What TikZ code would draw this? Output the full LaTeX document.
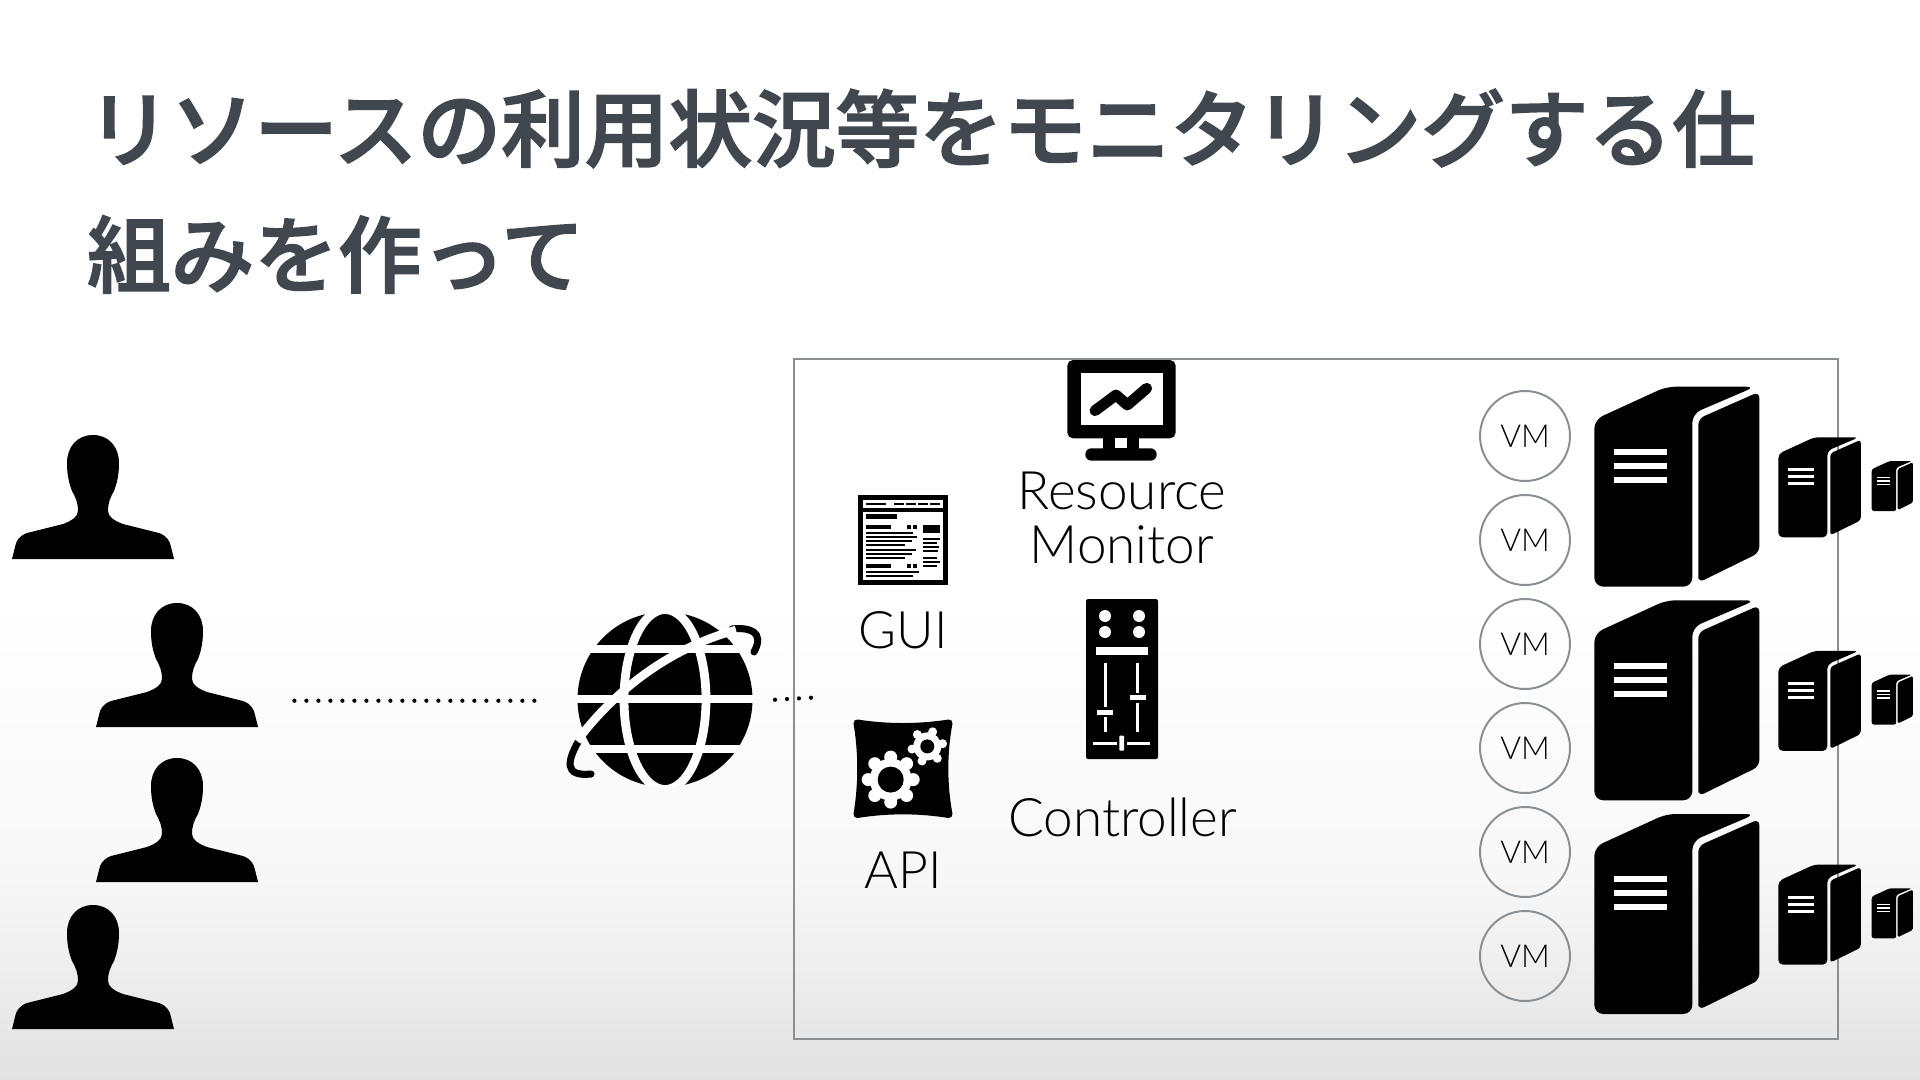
\documentclass[tikz,border=0pt]{standalone}
\usepackage{fontspec}
\setmainfont{Lato Light}
\newfontfamily\cjk[FakeBold=2]{Noto Sans CJK JP Medium}
\usetikzlibrary{positioning}
\definecolor{abujudul}{RGB}{64,71,78}
\definecolor{abugaris}{RGB}{138,143,148}
\definecolor{abutengah}{RGB}{247,247,247}
\definecolor{abubawah}{RGB}{226,226,226}
\tikzset{
    labeltext/.style={inner sep=0pt, anchor=base, font=\fontsize{73.5}{78}\selectfont},
    widelabel/.style={labeltext, font=\fontsize{75.5}{78}\selectfont},
    vmcircle/.style={circle, draw=abugaris, line width=2.8pt, minimum size=128pt, inner sep=0pt, font=\fontsize{45}{45}\selectfont},
    dotline/.style={line width=6pt, line cap=round, dash pattern=on 0pt off 17.07pt},
}
\newcommand{\serverikon}[3]{%
    \begin{scope}[shift={(#1,#2)}, scale=#3]
        \fill[rounded corners=#3*13pt] (0,200) -- (0,33) -- (72,0) -- (161,0) -- (98,27) -- (98,200) -- cycle;
        \fill[rounded corners=#3*9pt] (104,196) -- (104,32) -- (165,5) -- (165,166) -- (104,196) -- cycle;
        \foreach \y in {62.3,76.3,90.3}
            \fill[white] (20,\y) rectangle (72.3,\y+6);
    \end{scope}
}

\begin{document}
\begin{tikzpicture}[x=0.05cm, y=-0.05cm]
    \useasboundingbox (0,0) rectangle (1920,1080);
    \fill[white] (0,0) rectangle (1920,600);
    \shade[top color=white, bottom color=abutengah] (0,600) rectangle (1920,880);
    \shade[top color=abutengah, bottom color=abubawah] (0,880) rectangle (1920,1080);

    \node[anchor=north west, inner sep=0pt, align=left, text=abujudul, font=\cjk\fontsize{119}{179}\selectfont] (judul) at (87,89)
        {リソースの利用状況等をモニタリングする仕\\組みを作って};

    \draw[abugaris, line width=2.8pt] (794,359) rectangle (1838,1039);

    % users
    \foreach \x/\y in {93/435, 177/603, 177/758, 93/905}
    {
        \fill[shift={(\x,\y)}] (0,0) .. controls (16,0) and (26,12) .. (26,28)
            .. controls (26,40) and (24,48) .. (21,56) .. controls (17,63) and (15,68) .. (15,76)
            .. controls (15,82) and (22,86) .. (30,89) -- (66,98)
            .. controls (74,101) and (77,106) .. (78,112) -- (81,124) -- (-81,124) -- (-78,112)
            .. controls (-77,106) and (-74,101) .. (-66,98) -- (-30,89)
            .. controls (-22,86) and (-15,82) .. (-15,76) .. controls (-15,68) and (-17,63) .. (-21,56)
            .. controls (-24,48) and (-26,40) .. (-26,28) .. controls (-26,12) and (-16,0) .. (0,0) -- cycle;
    }

    % dots
    \coordinate (usersend) at (294.4,700.7);
    \coordinate (globeleft) at (534.4,700.7);
    \coordinate (globeright) at (775,699.7);
    \coordinate (boxin) at (811.5,697.7);
    \draw[dotline] (usersend) -- (globeleft);
    \draw[dotline] (globeright) -- (boxin);

    % globe
    \fill (665,699.5) circle[radius=87.5];
    \draw[line width=10pt, line cap=round] (732,629) .. controls (750,627) and (765,632) .. (754,652);
    \draw[line width=10pt, line cap=round] (578,742) .. controls (568,760) and (563,777) .. (591,774);
    \begin{scope}
        \clip (665,699.5) circle[radius=88];
        \draw[white, line width=12.5pt] (570,649) -- (760,649);
        \draw[white, line width=12.5pt] (570,699) -- (760,699);
        \draw[white, line width=12.5pt] (570,749) -- (760,749);
        \draw[white, line width=12.5pt] (665,699.5) ellipse[x radius=41, y radius=90];
    \end{scope}
    \draw[white, line width=12pt] (577,741) .. controls (615,690) and (670,648) .. (736,630);

    % gui
    \begin{scope}[shift={(840,480)}, scale=0.3333]
        \fill (54,45) rectangle (324,315);
        \fill[white] (69,60) rectangle (309,84);
        \fill[white] (69,96) rectangle (309,300);
        \foreach \xa/\xb/\ya/\yb in {78/138/68/76, 162/192/68/76, 198/228/68/76, 234/264/68/76, 270/300/68/76,
            78/171/102/118, 78/153/135/148, 201/213/135/148, 219/231/135/148, 249/300/135/160,
            78/219/157/162, 78/231/169/174, 78/216/181/186, 78/195/193/198, 78/228/208/213, 78/216/220/225, 78/195/232/237,
            249/300/175/180, 249/291/187/192, 249/297/199/204, 249/294/211/216, 249/291/232/237, 249/300/244/249, 249/291/256/261,
            78/153/252/264, 201/213/252/264, 219/231/252/264, 78/237/273/279, 78/219/285/291}
            \fill (\xa,\ya) rectangle (\xb,\yb);
    \end{scope}
    \node[labeltext] (gui) at (903,648) {GUI};

    % api
    \filldraw[line width=10pt, line join=round] (857,723) .. controls (888,727.7) and (918,727.7) .. (949,723)
        .. controls (943.4,753) and (943.4,784) .. (949,814.5) .. controls (918,809.6) and (888,809.6) .. (857,814.5)
        .. controls (862,784) and (862,753) .. (857,723) -- cycle;
    \fill[white] (890.7,779.6) circle[radius=21];
    \foreach \a in {0,45,...,315}
        \fill[white, shift={(890.7,779.6)}] (\a:22.5) circle[radius=6.5];
    \fill (890.7,779.6) circle[radius=13];
    \fill[white] (927.3,746.4) circle[radius=14];
    \foreach \a in {170,110,50,-10,-70,-130}
        \fill[white, shift={(927.3,746.4)}] (\a:15.5) circle[radius=4.5];
    \fill (927.3,746.4) circle[radius=7];
    \node[labeltext] (api) at (903,888.5) {API};

    % monitor
    \begin{scope}[shift={(1050,350)}, scale=0.3333]
        \fill[rounded corners=8pt] (52,30) rectangle (377,265);
        \fill[white] (92,70) rectangle (340,225);
        \fill (160,262) rectangle (268,300);
        \fill[white] (195,265) rectangle (232,295);
        \fill[rounded corners=8.5pt] (106,295) rectangle (320,332);
        \draw[line width=15.5pt, line cap=round, line join=round] (135,182) -- (198,135) -- (232,165) -- (290,115);
    \end{scope}
    \node[widelabel, align=center, anchor=center] (resmon) at (1122,518) {Resource\\Monitor};

    % controller
    \fill[rounded corners=3pt] (1086,599) rectangle (1158,759);
    \foreach \x/\y in {1105/616, 1139/616, 1105/632, 1139/632}
        \fill[white] (\x,\y) circle[radius=6];
    \fill[white] (1096,647) rectangle (1147.7,654.6);
    \fill[white] (1103.5,662.5) rectangle (1106.5,732);
    \fill[white] (1136.2,662.5) rectangle (1139.2,732);
    \fill[white] (1093.3,741.5) rectangle (1150,744.5);
    \fill (1097.3,707) rectangle (1112.7,717);
    \fill (1130,692.5) rectangle (1145.7,702.5);
    \fill (1116.5,735.7) rectangle (1127,750.7);
    \fill[white] (1097.3,709.6) rectangle (1112.7,714.6);
    \fill[white] (1130,695) rectangle (1145.7,700);
    \fill[white, rounded corners=1pt] (1119.3,735.7) rectangle (1124,750.7);
    \node[widelabel] (controller) at (1122.7,836.7) {Controller};

    % vm dan server
    \foreach \y/\nama in {436/a, 540/b, 644/c, 748/d, 852/e, 956/f}
        \node[vmcircle] (vm\nama) at (1525,\y) {VM};
    \foreach \y in {386.7, 600.3, 814}
    {
        \serverikon{1594.3}{\y}{1}
        \serverikon{1778.3}{\y+50.6}{0.5}
        \serverikon{1871.7}{\y+74.3}{0.25}
    }
\end{tikzpicture}
\end{document}
